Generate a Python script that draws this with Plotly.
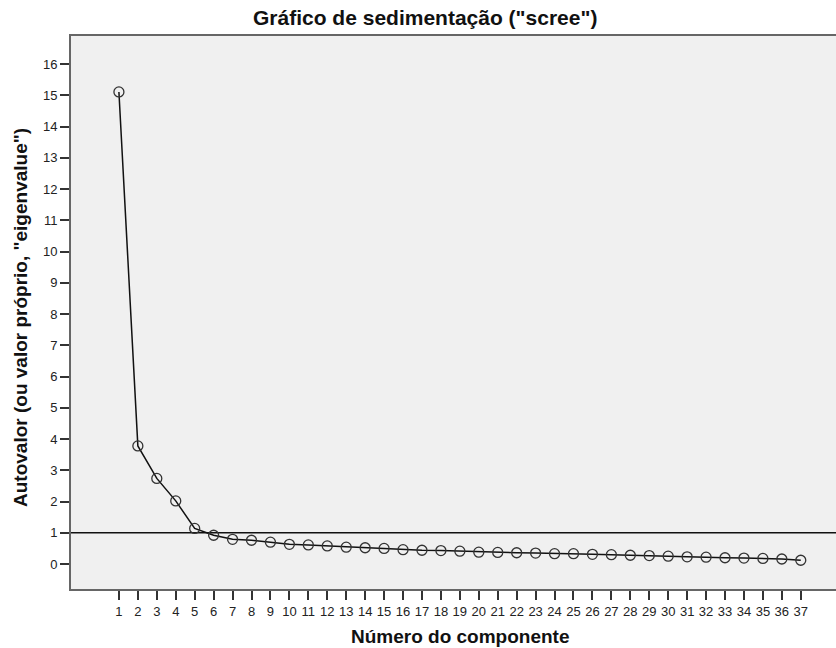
import plotly.graph_objects as go

components = list(range(1, 38))
eigenvalues = [15.11, 3.78, 2.74, 2.02, 1.14, 0.92, 0.79, 0.76, 0.70, 0.63,
               0.61, 0.58, 0.54, 0.52, 0.50, 0.46, 0.44, 0.43, 0.41, 0.38,
               0.37, 0.36, 0.35, 0.33, 0.33, 0.31, 0.30, 0.28, 0.27, 0.25,
               0.23, 0.22, 0.20, 0.19, 0.18, 0.16, 0.12]
y_ticks = list(range(0, 17))
reference_value = 1

title_text = 'Gráfico de sedimentação ("scree")'
x_title = 'Número do componente'
y_title = 'Autovalor (ou valor próprio, "eigenvalue")'

W, H = 836, 648
L, R, T, B = 71, 0, 36, 59
font_family = "Liberation Sans, Arial, sans-serif"

fig = go.Figure()
fig.add_trace(go.Scatter(
    x=components, y=eigenvalues, mode="lines+markers",
    line=dict(color="#111111", width=1.5),
    marker=dict(symbol="circle-open", size=10, color="#333333",
                line=dict(width=1.3, color="#333333")),
    showlegend=False, hoverinfo="x+y",
))

fig.add_hline(y=reference_value, line=dict(color="#111111", width=1.5), layer="below")

fig.update_layout(
    width=W, height=H,
    margin=dict(l=L, r=R, t=T, b=B),
    paper_bgcolor="white", plot_bgcolor="#f0f0f0",
    font=dict(family=font_family, size=13, color="#222222"),
    xaxis=dict(
        range=[-1.53, 38.86], tickmode="array", tickvals=components,
        ticktext=[str(c) for c in components],
        showgrid=False, zeroline=False,
        showline=True, linecolor="#666666", linewidth=2, mirror=True,
        ticks="outside", ticklen=9, tickwidth=1.5, tickcolor="#333333",
        tickfont=dict(size=13, color="#222222"),
    ),
    yaxis=dict(
        range=[-0.8, 16.9], tickmode="array", tickvals=y_ticks,
        showgrid=False, zeroline=False,
        showline=True, linecolor="#666666", linewidth=2,
        ticks="outside", ticklen=9, tickwidth=1.5, tickcolor="#333333",
        tickfont=dict(size=13, color="#222222"),
    ),
    annotations=[
        dict(text="<b>" + title_text + "</b>", xref="paper", yref="paper",
             x=(425 - L) / (W - L - R), y=1 + (T - 18) / (H - T - B),
             xanchor="center", yanchor="middle", showarrow=False,
             font=dict(size=21, family=font_family, color="#111111")),
        dict(text="<b>" + x_title + "</b>", xref="paper", yref="paper",
             x=(460 - L) / (W - L - R), y=-(636 - (H - B)) / (H - T - B),
             xanchor="center", yanchor="middle", showarrow=False,
             font=dict(size=19, family=font_family, color="#111111")),
        dict(text="<b>" + y_title + "</b>", xref="paper", yref="paper",
             x=-(L - 20) / (W - L - R), y=1 - (318 - T) / (H - T - B), textangle=-90,
             xanchor="center", yanchor="middle", showarrow=False,
             font=dict(size=19, family=font_family, color="#111111")),
    ],
)

fig.write_html("out.html", config={"displayModeBar": False},
               post_script="document.body.style.margin='0';document.body.style.overflow='hidden';")
